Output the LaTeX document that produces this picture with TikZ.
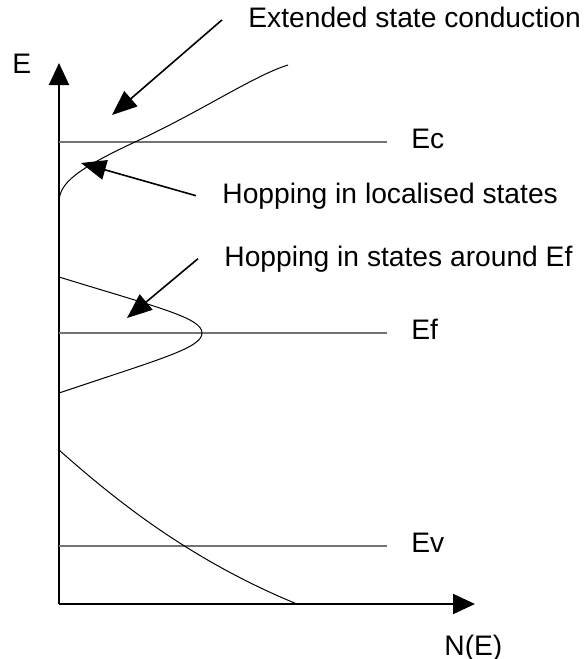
\documentclass[tikz,border=0pt]{standalone}
\usepackage{fontspec}
\setmainfont{Liberation Sans}
\usetikzlibrary{arrows.meta}
\begin{document}
\begin{tikzpicture}[x=0.5pt,y=-0.5pt,
    testo/.style={inner sep=0pt,anchor=base west,font=\fontsize{14.1}{17}\selectfont},
    asse/.style={line width=1pt,-{Triangle[length=11pt,width=10pt]}},
    livello/.style={line width=0.6pt,black!55},
    curva/.style={line width=0.5pt},
    freccia/.style={line width=0.8pt,-{Triangle[length=12.5pt,width=10pt]}}]
    \useasboundingbox (0,0) rectangle (587,659);

    % assi
    \coordinate (O) at (59,604);
    \coordinate (Etop) at (59,63);
    \coordinate (Nend) at (475,604);
    \draw[asse] (O) -- (Etop);
    \draw[asse] (O) -- (Nend);
    \node[testo] (lblE) at (12,73) {E};
    \node[testo] (lblN) at (444,655) {N(E)};

    % livelli
    \foreach \y/\n in {142/Ec,333/Ef,546/Ev}{
        \coordinate (\n0) at (59,\y);
        \coordinate (\n1) at (387,\y);
        \draw[livello] (\n0) -- (\n1);
        \node[testo] (lbl\n) at (411,\y+6.5) {\n};
    }

    % densita degli stati
    \draw[curva] (59,200) .. controls (61,183) and (75,170) .. (135,142)
        .. controls (200,112) and (255,75) .. (288,65);
    \draw[curva] (59,277) .. controls (160,308) and (202,318) .. (202,333)
        .. controls (202,348) and (160,359) .. (59,393);
    \draw[curva] (59,450) .. controls (110,495) and (185,558) .. (297,604);

    % didascalie
    \node[testo] (ext) at (248,27) {Extended state conduction};
    \node[testo] (loc) at (222,203) {Hopping in localised states};
    \node[testo] (hef) at (224,266) {Hopping in states around Ef};

    % frecce
    \coordinate (tipA) at (112,115);
    \coordinate (tipB) at (81,163);
    \coordinate (tipC) at (127,318);
    \draw[freccia] ([xshift=-13pt,yshift=-1.5pt]ext.west) -- (tipA);
    \draw[freccia] ([xshift=-13pt]loc.west) -- (tipB);
    \draw[freccia] ([xshift=-13pt]hef.west) -- (tipC);
\end{tikzpicture}
\end{document}
